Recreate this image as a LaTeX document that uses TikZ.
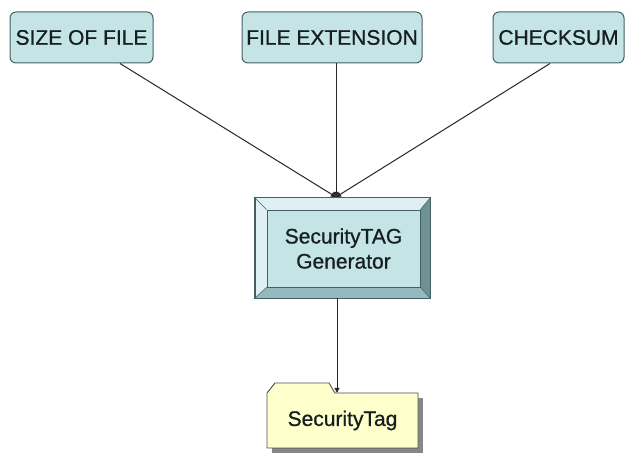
\documentclass[tikz,border=0pt]{standalone}
\usepackage{fontspec}
\setmainfont{Liberation Sans}
\newfontfamily\heavy{Liberation Sans}[BoldFont=Liberation Sans, BoldFeatures={FakeBold=0.8}]
\usetikzlibrary{arrows.meta}
\definecolor{boxfill}{RGB}{196,228,230}
\definecolor{boxedge}{RGB}{70,95,100}
\definecolor{bevlight}{RGB}{222,240,241}
\definecolor{bevmid}{RGB}{150,185,190}
\definecolor{bevdark}{RGB}{110,145,150}
\definecolor{folderfill}{RGB}{255,255,204}
\definecolor{folderedge}{RGB}{80,80,70}
\definecolor{shadowgray}{RGB}{135,135,135}
\definecolor{txt}{RGB}{22,30,32}
\begin{document}
\begin{tikzpicture}[x=1pt,y=-1pt,
  lbl/.style={font=\heavy\bfseries\fontsize{21}{25}\selectfont, text=txt},
  attr/.style={lbl, draw=boxedge, line width=1pt, fill=boxfill, rounded corners=6pt,
    minimum height=51pt, inner sep=0pt},
  bevelouter/.style={draw=boxedge, line width=1pt, fill=bevlight, minimum width=175pt,
    minimum height=100pt, inner sep=0pt},
  bevelinner/.style={lbl, draw=boxedge, line width=0.8pt, fill=boxfill, minimum width=153pt,
    minimum height=77pt, inner sep=0pt, align=center},
  foldernode/.style={lbl, minimum width=151pt, minimum height=55pt, inner sep=0pt},
  conn/.style={draw=black!85, line width=1pt, -{Triangle[length=5pt,width=5pt]}}]
\useasboundingbox (0,0) rectangle (627,454);

% top attribute boxes
\node[attr, minimum width=143pt] (size) at (81.5,37.5) {SIZE OF FILE};
\node[attr, minimum width=180pt] (ext) at (332,37.5) {FILE EXTENSION};
\node[attr, minimum width=131pt] (sum) at (558.5,37.5) {CHECKSUM};

% generator with bevel
\node[bevelouter] (genout) at (342.5,248) {};
\fill[bevdark] (genout.north east) -- (genout.south east) -- (420,287) -- (420,210) -- cycle;
\fill[bevmid] (genout.south west) -- (genout.south east) -- (420,287) -- (267,287) -- cycle;
\draw[boxedge, line width=1pt] (genout.north west) rectangle (genout.south east);
\node[bevelinner] (gen) at (343.5,248.5) {SecurityTAG\\Generator};
\draw[boxedge, line width=0.5pt] (genout.north west) -- (gen.north west)
  (genout.north east) -- (gen.north east)
  (genout.south west) -- (gen.south west)
  (genout.south east) -- (gen.south east);

\coordinate (join) at (336,197);
\draw[conn] ([xshift=38.5pt]size.south) -- (join);
\draw[conn] ([xshift=4pt]ext.south) -- (join);
\draw[conn] ([xshift=-8.5pt]sum.south) -- (join);

% folder: shadow, outline with tab, then label
\fill[shadowgray] (272,398) rectangle (423,453);
\draw[folderedge, line width=0.9pt, fill=folderfill]
  (267,448) -- (267,393) -- (275,383) -- (329,383) -- (335,393)
  -- (418,393) -- (418,448) -- cycle;
\node[foldernode] (tag) at (342.5,420.5) {SecurityTag};

\draw[conn] ([xshift=-5.5pt]genout.south) -- ([xshift=-5.5pt]tag.north);
\end{tikzpicture}
\end{document}
